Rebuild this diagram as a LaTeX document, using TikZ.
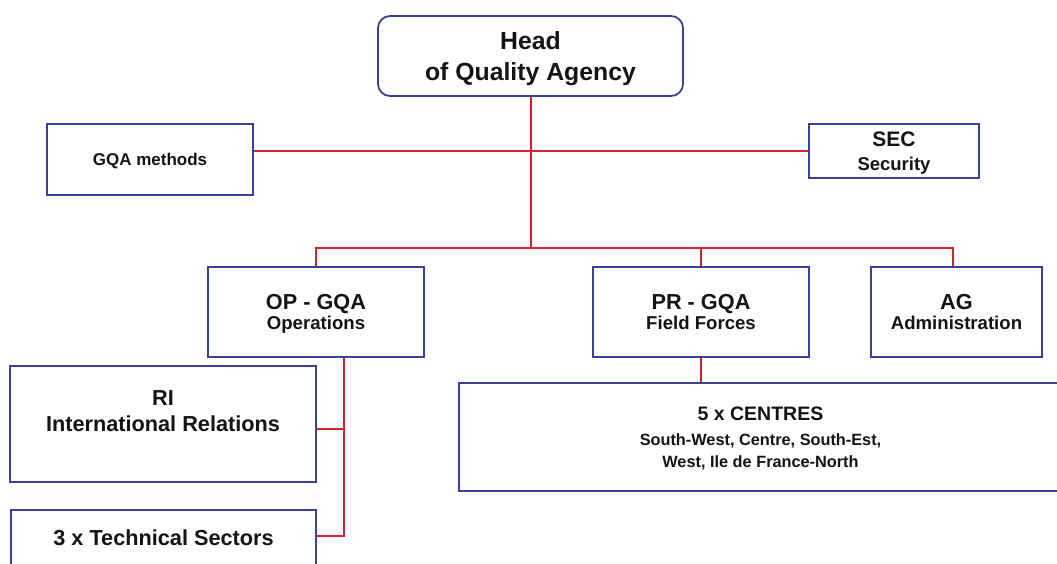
\documentclass[tikz,border=0pt]{standalone}
\usepackage{fontspec}
\setmainfont{Liberation Sans}
\definecolor{boxblue}{RGB}{58,66,150}
\definecolor{linkred}{RGB}{214,34,44}
\newcommand{\fs}[2]{\fontsize{#1}{#2}\selectfont}
\tikzset{
  unit/.style={draw=boxblue,line width=1.8pt,fill=white,text=black!92,align=center,inner sep=0pt,text depth=0pt},
  link/.style={draw=linkred,line width=2pt},
}
\begin{document}
\begin{tikzpicture}[x=1pt,y=-1pt]
\useasboundingbox (0,0) rectangle (1057,563);
% top of the chart
\node[unit,rounded corners=12pt,minimum width=305pt,minimum height=80pt,font=\bfseries\fs{24.8}{31}](head)at(530.5,56){Head\\of Quality Agency};
\node[unit,minimum width=206pt,minimum height=71pt,font=\bfseries\fs{17}{20}](gqa)at(150,159.5){GQA methods};
\node[unit,minimum width=170pt,minimum height=54pt,font=\bfseries\fs{21}{24}](sec)at(894,151){SEC\\{\fs{18.5}{22}Security}};
% second row
\node[unit,minimum width=216pt,minimum height=90pt,font=\bfseries\fs{21.7}{20}](op)at(316,312){OP - GQA\\{\fs{18.6}{20}Operations}};
\node[unit,minimum width=216pt,minimum height=90pt,font=\bfseries\fs{21.7}{20}](pr)at(701,312){PR - GQA\\{\fs{18.6}{20}Field Forces}};
\node[unit,minimum width=171pt,minimum height=90pt,font=\bfseries\fs{21.7}{20}](ag)at(956.5,312){AG\\{\fs{18.6}{20}Administration}};
% third row
\node[unit,minimum width=306pt,minimum height=116pt,font=\bfseries\fs{21.7}{26}](ri)at(163,424){RI\\International Relations\\\mbox{}};
\node[unit,minimum width=305pt,minimum height=56pt,font=\bfseries\fs{21.7}{26}](tech)at(163.5,538){3 x Technical Sectors};
\node[unit,minimum width=603pt,minimum height=108pt,font=\bfseries\fs{19.5}{21.7}](centres)at(760.5,437){5 x CENTRES\\[3pt]{\fs{16.3}{21}South-West, Centre, South-Est,}\\{\fs{16.3}{21}West, Ile de France-North}};
% links
\coordinate(hub)at(531,248);
\coordinate(opdrop)at([xshift=28pt]op.south);
\coordinate(agdrop)at([xshift=-3.5pt]ag.north);
\draw[link](head.south)--(head.south|-hub);
\draw[link](sec.west)--(sec.west-|gqa.east);
\draw[link](op.north)|-(hub)-|(agdrop);
\draw[link](pr.north)--(pr.north|-hub);
\draw[link](pr.south)--(pr.south|-centres.north);
\draw[link](opdrop)|-([yshift=2pt]tech.east);
\draw[link]([yshift=-5pt]ri.east)--([yshift=-5pt]ri.east-|opdrop);
\end{tikzpicture}
\end{document}
